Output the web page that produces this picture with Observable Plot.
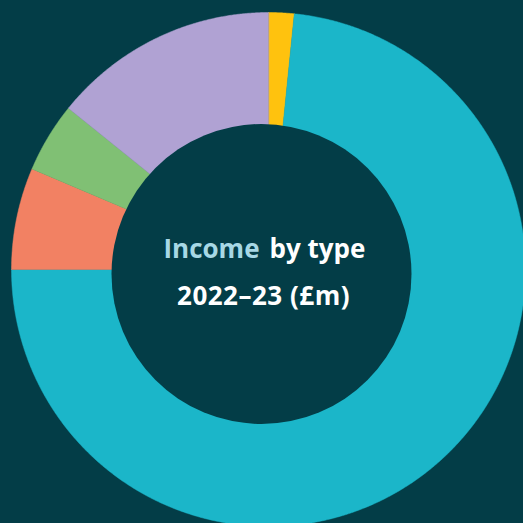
<!DOCTYPE html>
<html>
<head>
<meta charset="utf-8">
<script src="https://cdn.jsdelivr.net/npm/d3@7"></script>
<script src="https://cdn.jsdelivr.net/npm/@observablehq/plot@0.6"></script>
<style>
  html, body { margin: 0; padding: 0; background: #033d47; overflow: hidden; }
  #chart { width: 523px; height: 523px; }
  .line2 text { letter-spacing: 0.5px; }
</style>
</head>
<body>
<div id="chart"></div>
<script>
// Income by type 2022–23 (£m) — clockwise from 12 o'clock
const categories = ["Type A", "Type B", "Type C", "Type D", "Type E"];
const values = [16, 734, 64, 44, 142];
const colors = ["#ffc20e", "#1bb6c9", "#f28163", "#80c074", "#b0a2d3"];
const titleLine1a = "Income";
const titleLine1b = "by type";
const titleLine2 = "2022–23 (£m)";

const bg = "#033d47";
const pie = d3.pie().sort(null).value(d => d.value);
const arcs = pie(categories.map((c, i) => ({category: c, value: values[i]})));

// Build wedge outline for each slice in unit coordinates
const pts = [];
const step = 0.005;
arcs.forEach(a => {
  const n = Math.max(2, Math.ceil((a.endAngle - a.startAngle) / step));
  pts.push({category: a.data.category, x: 0, y: 0});
  for (let k = 0; k <= n; k++) {
    const t = a.startAngle + (a.endAngle - a.startAngle) * k / n;
    pts.push({category: a.data.category, x: Math.sin(t), y: Math.cos(t)});
  }
});

// the hole (slightly off-centre, as in the original artwork)
const hole = [{x: -7 / 257, y: -4.5 / 257}];

const font = "'Open Sans', 'Noto Sans', sans-serif";

const plot = Plot.plot({
  width: 523,
  height: 523,
  margin: 0,
  style: {background: bg, overflow: "hidden"},
  x: {domain: [-1, 1], range: [11, 525], axis: null},
  y: {domain: [-1, 1], range: [526, 12], axis: null},
  color: {domain: categories, range: colors},
  marks: [
    Plot.line(pts, {x: "x", y: "y", z: "category", fill: "category", stroke: "category", strokeWidth: 0.5, curve: "linear-closed"}),
    Plot.dot(hole, {x: "x", y: "y", r: 150, fill: bg, stroke: "none"}),
    Plot.text([titleLine1a], {x: 0, y: 0, text: d => d, dx: -9, dy: -12, textAnchor: "end", lineAnchor: "bottom", fill: "#a7d8e5", fontSize: 26, fontWeight: "bold", fontFamily: font}),
    Plot.text([titleLine1b], {x: 0, y: 0, text: d => d, dx: 1, dy: -12, textAnchor: "start", lineAnchor: "bottom", fill: "#ffffff", fontSize: 26, fontWeight: "bold", fontFamily: font}),
    Plot.text([titleLine2], {x: 0, y: 0, text: d => d, dx: -5, dy: 35, textAnchor: "middle", lineAnchor: "bottom", fill: "#ffffff", fontSize: 26, fontWeight: "bold", fontFamily: font, className: "line2"})
  ]
});
document.getElementById("chart").appendChild(plot);
</script>
</body>
</html>
